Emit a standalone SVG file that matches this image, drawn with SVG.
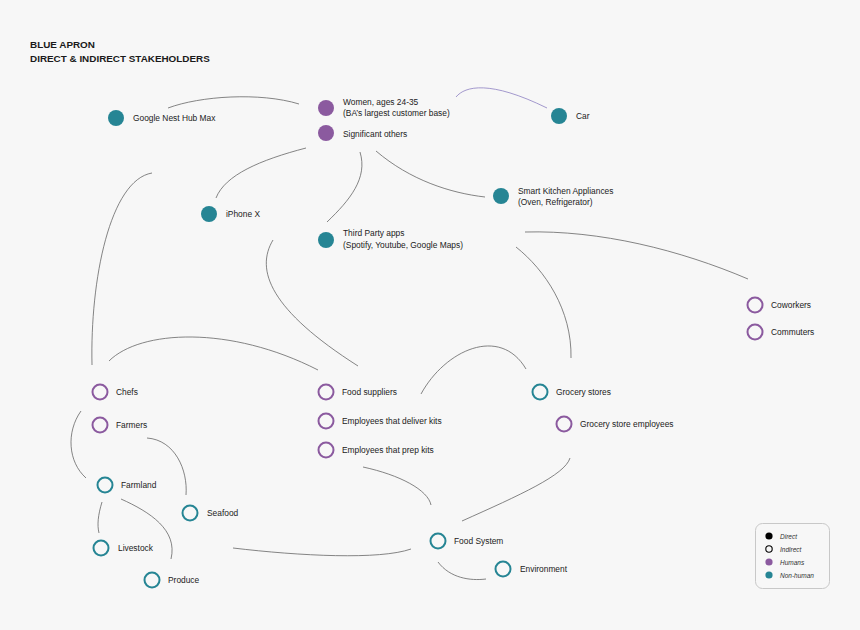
<svg xmlns="http://www.w3.org/2000/svg" width="860" height="630" viewBox="0 0 860 630">
<style>
.t{font-family:"Liberation Sans",Arial,sans-serif;font-size:8.4px;fill:#222}
.h{font-family:"Liberation Sans",Arial,sans-serif;font-size:9.9px;font-weight:bold;fill:#1a1a1a}
.lg{font-family:"Liberation Sans",Arial,sans-serif;font-size:6.5px;font-style:italic;fill:#333}
.hf{fill:#8b5a9f}
.nf{fill:#268594}
.hr{fill:none;stroke:#8b5a9f;stroke-width:2}
.nr{fill:none;stroke:#268594;stroke-width:2}
.c path{fill:none;stroke:#666;stroke-width:0.8}
</style>
<rect width="860" height="630" fill="#f7f7f7"/>
<g id="title">
<text class="h" x="30" y="48">BLUE APRON</text>
<text class="h" x="30" y="61.5">DIRECT &amp; INDIRECT STAKEHOLDERS</text>
</g>
<g class="c" id="connectors">
<path d="M168,108 C200,96 260,92 299,104"/>
<path d="M456,97 C465,86 490,80 547,108" style="stroke:#8d80c2"/>
<path d="M306,148 C260,160 225,175 216,198"/>
<path d="M360,152 C368,178 350,200 327,222"/>
<path d="M376,151 C410,180 450,193 485,197"/>
<path d="M152,173 C110,180 90,280 92,365"/>
<path d="M109,361 C140,330 230,325 318,370"/>
<path d="M273,240 C255,270 270,310 358,366"/>
<path d="M421,394 C445,350 500,325 526,369"/>
<path d="M516,247 C545,270 572,310 571,358"/>
<path d="M525,232 C600,230 680,250 748,279"/>
<path d="M81,411 C66,432 68,462 86,478"/>
<path d="M147,438 C175,440 188,470 186,495"/>
<path d="M102,502 C98,515 97,525 99,533"/>
<path d="M121,499 C150,512 178,530 171,559"/>
<path d="M233,548 C300,556 380,560 411,549"/>
<path d="M363,467 C400,475 428,490 431,505"/>
<path d="M570,458 C565,475 520,495 462,521"/>
<path d="M438,562 C450,578 470,581 486,579"/>
</g>
<g id="google"><circle class="nf" cx="116" cy="118" r="8"/><text class="t" x="133" y="121">Google Nest Hub Max</text></g>
<g id="women"><circle class="hf" cx="326" cy="108" r="8"/><text class="t" x="343" y="105">Women, ages 24-35</text><text class="t" x="343" y="116">(BA’s largest customer base)</text></g>
<g id="significant"><circle class="hf" cx="326" cy="133" r="8"/><text class="t" x="343" y="137">Significant others</text></g>
<g id="car"><circle class="nf" cx="559" cy="116" r="8"/><text class="t" x="576" y="119">Car</text></g>
<g id="smartkitchen"><circle class="nf" cx="501" cy="196" r="8"/><text class="t" x="518" y="194">Smart Kitchen Appliances</text><text class="t" x="518" y="205">(Oven, Refrigerator)</text></g>
<g id="iphone"><circle class="nf" cx="209" cy="214" r="8"/><text class="t" x="226" y="217">iPhone X</text></g>
<g id="thirdparty"><circle class="nf" cx="326" cy="240" r="8"/><text class="t" x="343" y="236">Third Party apps</text><text class="t" x="343" y="248">(Spotify, Youtube, Google Maps)</text></g>
<g id="coworkers"><circle class="hr" cx="755" cy="305" r="7.5"/><text class="t" x="771" y="308">Coworkers</text></g>
<g id="commuters"><circle class="hr" cx="755" cy="332" r="7.5"/><text class="t" x="771" y="335">Commuters</text></g>
<g id="chefs"><circle class="hr" cx="100" cy="392" r="7.5"/><text class="t" x="116" y="395">Chefs</text></g>
<g id="farmers"><circle class="hr" cx="100" cy="425" r="7.5"/><text class="t" x="116" y="428">Farmers</text></g>
<g id="foodsuppliers"><circle class="hr" cx="326" cy="392" r="7.5"/><text class="t" x="342" y="395">Food suppliers</text></g>
<g id="deliver"><circle class="hr" cx="326" cy="421" r="7.5"/><text class="t" x="342" y="424">Employees that deliver kits</text></g>
<g id="prep"><circle class="hr" cx="326" cy="450" r="7.5"/><text class="t" x="342" y="453">Employees that prep kits</text></g>
<g id="grocery"><circle class="nr" cx="540" cy="392" r="7.5"/><text class="t" x="556" y="395">Grocery stores</text></g>
<g id="groceryemp"><circle class="hr" cx="564" cy="424" r="7.5"/><text class="t" x="580" y="427">Grocery store employees</text></g>
<g id="farmland"><circle class="nr" cx="105" cy="485" r="7.5"/><text class="t" x="121" y="488">Farmland</text></g>
<g id="seafood"><circle class="nr" cx="190" cy="513" r="7.5"/><text class="t" x="207" y="516">Seafood</text></g>
<g id="livestock"><circle class="nr" cx="101" cy="548" r="7.5"/><text class="t" x="118" y="551">Livestock</text></g>
<g id="produce"><circle class="nr" cx="152" cy="580" r="7.5"/><text class="t" x="168" y="583">Produce</text></g>
<g id="foodsystem"><circle class="nr" cx="438" cy="541" r="7.5"/><text class="t" x="454" y="544">Food System</text></g>
<g id="environment"><circle class="nr" cx="503" cy="569" r="7.5"/><text class="t" x="520" y="572">Environment</text></g>
<g id="legend">
<rect x="755.5" y="523.5" width="74" height="65" rx="7" fill="none" stroke="#c8c8c8" stroke-width="1"/>
<circle cx="769" cy="536" r="3.6" fill="#000"/><text class="lg" x="780" y="538.5">Direct</text>
<circle cx="769" cy="549" r="3.2" fill="none" stroke="#000" stroke-width="1.1"/><text class="lg" x="780" y="551.5">Indirect</text>
<circle cx="769" cy="562" r="3.6" fill="#8b5a9f"/><text class="lg" x="780" y="564.5">Humans</text>
<circle cx="769" cy="575" r="3.6" fill="#268594"/><text class="lg" x="780" y="577.5">Non-human</text>
</g>
</svg>
